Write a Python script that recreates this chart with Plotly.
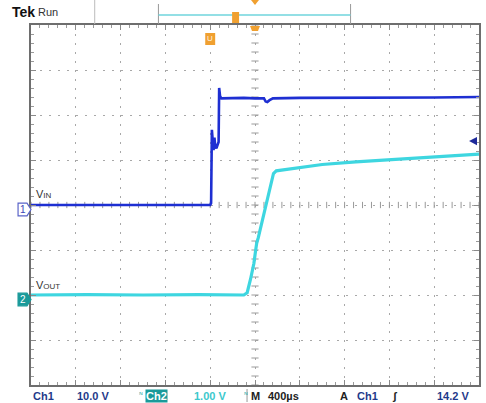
import numpy as np
import plotly.graph_objects as go

# ---- acquisition settings ----
time_per_div_us = 400          # M 400µs
ch1_volts_per_div = 10.0       # Ch1 10.0 V
ch2_volts_per_div = 1.00       # Ch2 1.00 V
trigger_level_v = 14.2         # A Ch1 rising 14.2 V
ch1_offset_div = 0.0
ch2_offset_div = -2.0

# ---- Ch1 : VIN (time in µs, volts) ----
vin_t = [-2000, -1500, -1000, -600, -400, -392, -385, -378, -370, -362, -355,
         -345, -335, -325, -320, -312, -300, -200, -100, 0, 80, 95, 110, 130,
         160, 400, 800, 1200, 1600, 2000]
vin_v = [0.0, 0.0, 0.0, 0.0, 0.0, 0.4, 16.7, 14.5, 12.2, 15.0, 13.0,
         12.6, 13.4, 14.0, 26.0, 24.2, 23.7, 23.8, 23.8, 23.7, 23.7, 23.0, 22.9, 23.3,
         23.7, 23.8, 23.8, 23.9, 23.9, 24.0]

# ---- Ch2 : VOUT (time in µs, volts) ----
vout_t = [-2000, -1500, -1000, -500, -100, -70, -40, -10, 5, 15, 30, 60, 100,
          140, 165, 190, 300, 600, 900, 1200, 1500, 1800, 2000]
vout_v = [0.0, 0.01, 0.0, 0.01, 0.0, 0.05, 0.35, 0.7, 0.98, 1.15, 1.28, 1.6,
          1.98, 2.4, 2.7, 2.76, 2.8, 2.9, 2.96, 3.01, 3.06, 3.1, 3.13]

# ---- status-bar texts ----
status_items = [
    # (text, x_px, colour, background)
    ("Ch1", 31, "#1f3a8a", None),
    ("10.0 V", 75, "#1f3a8a", None),
    ("Ch2", 146, "#ffffff", "#1a9a9a"),
    ("1.00 V", 193, "#3cc8cc", None),
    ("M", 250, "#222222", None),
    ("400µs", 267, "#222222", None),
    ("A", 339, "#222222", None),
    ("Ch1", 356, "#1f3a8a", None),
    ("ʃ", 392, "#222222", None),
    ("14.2 V", 437, "#1f3a8a", None),
]

W, H = 486, 403
L, R, T, B = 31, 5, 25, 18
PW, PH = W - L - R, H - T - B


def xp(px):
    return (px - L) / PW


def yp(py):
    return (H - B - py) / PH


x_half = 5 * time_per_div_us

fig = go.Figure()

# centre cross with fine tick marks every 1/5 division
cx, cy = [], []
for t in np.arange(-x_half, x_half + 1, time_per_div_us / 5):
    cx += [t, t, None]
    cy += [-0.07, 0.07, None]
for d in np.arange(-4, 4.01, 0.2):
    cx += [-time_per_div_us * 0.08, time_per_div_us * 0.08, None]
    cy += [d, d, None]
fig.add_trace(go.Scatter(x=cx, y=cy, mode="lines",
                         line=dict(color="#9a9a9a", width=1),
                         hoverinfo="skip", showlegend=False))

# VOUT trace
fig.add_trace(go.Scatter(
    x=vout_t, y=[v / ch2_volts_per_div + ch2_offset_div for v in vout_v],
    mode="lines", line=dict(color="#3ed6e0", width=3.2),
    hoverinfo="skip", showlegend=False))

# VIN trace
fig.add_trace(go.Scatter(
    x=vin_t, y=[v / ch1_volts_per_div + ch1_offset_div for v in vin_v],
    mode="lines", line=dict(color="#1e2fd2", width=2.6),
    hoverinfo="skip", showlegend=False))

axis_common = dict(showgrid=True, griddash="2px,7px", gridcolor="#a8a8a8",
                   gridwidth=1, zeroline=False, showticklabels=False,
                   ticks="inside", ticklen=5, tickcolor="#8a8a8a",
                   showline=True, linecolor="#6e6e6e", linewidth=2,
                   mirror="ticks", fixedrange=True)

fig.update_xaxes(range=[-x_half, x_half], dtick=time_per_div_us, tick0=0,
                 minor=dict(dtick=time_per_div_us / 5, ticks="inside",
                            ticklen=3, tickcolor="#9a9a9a", showgrid=False),
                 **axis_common)
fig.update_yaxes(range=[-4, 4], dtick=1, tick0=0,
                 minor=dict(dtick=0.2, ticks="inside", ticklen=3,
                            tickcolor="#9a9a9a", showgrid=False),
                 **axis_common)

shapes = []
annotations = []

# channel ground markers
def channel_marker(level_div, label, line_col, fill_col, text_col):
    yc = level_div
    h = 0.14
    x0, x1, x2 = xp(18), xp(27), xp(31)
    path = (f"M {x0},{yc - h} L {x1},{yc - h} L {x2},{yc} "
            f"L {x1},{yc + h} L {x0},{yc + h} Z")
    shapes.append(dict(type="path", path=path, xref="paper", yref="y",
                       line=dict(color=line_col, width=1.2), fillcolor=fill_col,
                       layer="above"))
    annotations.append(dict(text=label, x=xp(23), y=yc, xref="paper", yref="y",
                            showarrow=False, xanchor="center", yanchor="middle",
                            font=dict(family="Liberation Sans", size=10,
                                      color=text_col)))


channel_marker(ch1_offset_div - 0.1, "1", "#5a64c8", "#ffffff", "#3a46b8")
channel_marker(ch2_offset_div - 0.1, "2", "#1a9a9a", "#1a9a9a", "#ffffff")

# trigger level arrow on right edge
tl = trigger_level_v / ch1_volts_per_div + ch1_offset_div
shapes.append(dict(type="path", xref="paper", yref="y",
                   path=f"M {xp(471)},{tl} L {xp(479)},{tl + 0.09} "
                        f"L {xp(479)},{tl - 0.09} Z",
                   fillcolor="#1e2a9a", line=dict(width=0), layer="above"))

# signal labels
annotations.append(dict(text="V<span style='font-size:8px'>IN</span>",
                        x=xp(34), y=yp(194), xref="paper", yref="paper",
                        showarrow=False, xanchor="left", yanchor="middle",
                        font=dict(family="Liberation Sans", size=11,
                                  color="#333333")))
annotations.append(dict(text="V<span style='font-size:8px'>OUT</span>",
                        x=xp(34), y=yp(285), xref="paper", yref="paper",
                        showarrow=False, xanchor="left", yanchor="middle",
                        font=dict(family="Liberation Sans", size=11,
                                  color="#333333")))

# header: Tek Run, record-position bracket and trigger markers
annotations.append(dict(text="<b>Tek</b>", x=xp(10), y=yp(12), xref="paper",
                        yref="paper", showarrow=False, xanchor="left",
                        yanchor="middle",
                        font=dict(family="Liberation Sans", size=14,
                                  color="#111111")))
annotations.append(dict(text="Run", x=xp(36), y=yp(12), xref="paper",
                        yref="paper", showarrow=False, xanchor="left",
                        yanchor="middle",
                        font=dict(family="Liberation Sans", size=11,
                                  color="#333333")))
shapes.append(dict(type="line", xref="paper", yref="paper",
                   x0=xp(95), x1=xp(95), y0=yp(0), y1=yp(24),
                   line=dict(color="#bbbbbb", width=1)))
for bx in (159, 352):
    shapes.append(dict(type="line", xref="paper", yref="paper",
                       x0=xp(bx), x1=xp(bx), y0=yp(4), y1=yp(24),
                       line=dict(color="#999999", width=1)))
shapes.append(dict(type="line", xref="paper", yref="paper",
                   x0=xp(159), x1=xp(352), y0=yp(15), y1=yp(15),
                   line=dict(color="#6fd4dc", width=1.5)))

orange = "#f0a030"
# small 'U' tag inside bracket
shapes.append(dict(type="rect", xref="paper", yref="paper",
                   x0=xp(233), x1=xp(240), y0=yp(12), y1=yp(23),
                   fillcolor=orange, line=dict(width=0)))
# trigger position marks at top centre
shapes.append(dict(type="path", xref="paper", yref="paper",
                   path=f"M {xp(252)},{yp(0)} L {xp(260)},{yp(0)} "
                        f"L {xp(256)},{yp(5)} Z",
                   fillcolor=orange, line=dict(width=0)))
shapes.append(dict(type="path", xref="paper", yref="paper",
                   path=f"M {xp(251)},{yp(26)} L {xp(261)},{yp(26)} "
                        f"L {xp(259)},{yp(31)} L {xp(253)},{yp(31)} Z",
                   fillcolor=orange, line=dict(width=0), layer="above"))
# 'U' tag below the top edge
shapes.append(dict(type="rect", xref="paper", yref="paper",
                   x0=xp(206), x1=xp(216), y0=yp(33), y1=yp(45),
                   fillcolor=orange, line=dict(width=0), layer="above"))
annotations.append(dict(text="U", x=xp(211), y=yp(39), xref="paper",
                        yref="paper", showarrow=False, xanchor="center",
                        yanchor="middle",
                        font=dict(family="Liberation Sans", size=8,
                                  color="#fff4e0")))

# status bar
status_y = yp(396)
for text, x_px, col, bg in status_items:
    a = dict(text=f"<b>{text}</b>", x=xp(x_px), y=status_y, xref="paper",
             yref="paper", showarrow=False, xanchor="left", yanchor="middle",
             font=dict(family="Liberation Sans", size=11, color=col))
    if bg:
        a.update(bgcolor=bg, borderpad=0)
    annotations.append(a)
# bandwidth-limit glyphs
for gx in (137, 243):
    annotations.append(dict(text="ᴺ", x=xp(gx), y=status_y, xref="paper",
                            yref="paper", showarrow=False, xanchor="left",
                            yanchor="middle",
                            font=dict(family="DejaVu Sans", size=8,
                                      color="#2aa8a8")))
shapes.append(dict(type="line", xref="paper", yref="paper",
                   x0=xp(248), x1=xp(248), y0=yp(389), y1=yp(402),
                   line=dict(color="#999999", width=1)))

fig.update_layout(width=W, height=H,
                  margin=dict(l=L, r=R, t=T, b=B, pad=0),
                  paper_bgcolor="#ffffff", plot_bgcolor="#ffffff",
                  shapes=shapes, annotations=annotations, showlegend=False)

fig.write_html("out.html", config={"displayModeBar": False})
